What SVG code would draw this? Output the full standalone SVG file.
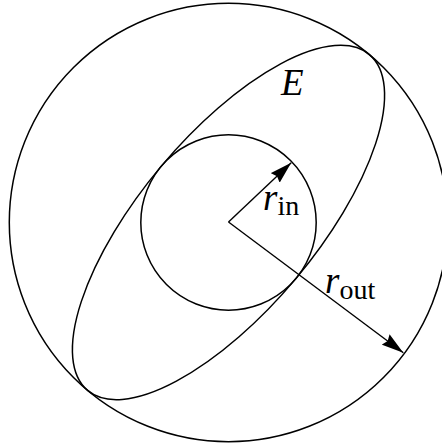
<svg xmlns="http://www.w3.org/2000/svg" width="442" height="444" viewBox="0 0 442 444">
<style>
.sh{fill:none;stroke:#000;stroke-width:1.5}
.ln{fill:none;stroke:#000;stroke-width:1.4}
.m{font-family:"Liberation Serif","Times New Roman",serif;font-style:italic;font-size:37px;fill:#000}
.s{font-family:"Liberation Serif","Times New Roman",serif;font-size:28px;fill:#000}
</style>
<defs>
<marker id="ah" markerUnits="userSpaceOnUse" markerWidth="24" markerHeight="14" refX="22" refY="7" orient="auto" viewBox="0 0 24 14">
<path d="M0,0.5 L22,7 L0,13.5 L2.5,7 Z" fill="#000"/>
</marker>
</defs>
<rect width="442" height="444" fill="#fff"/>
<g id="outer"><circle class="sh" cx="228.5" cy="222.5" r="219.2"/></g>
<g id="inner"><circle class="sh" cx="228.5" cy="222.5" r="87.7"/></g>
<g id="ellipseE"><ellipse class="sh" cx="228.5" cy="222.5" rx="219.2" ry="87.7" transform="rotate(-50 228.5 222.5)"/>
<text class="m" x="281" y="95">E</text></g>
<g id="connectors">
<line class="ln" x1="228.5" y1="222" x2="291.2" y2="162.8" marker-end="url(#ah)"/>
<line class="ln" x1="228.5" y1="222" x2="403.3" y2="352.7" marker-end="url(#ah)"/>
</g>
<g id="labels">
<text x="263" y="210"><tspan class="m">r</tspan><tspan class="s" dy="5">in</tspan></text>
<text x="325" y="293"><tspan class="m">r</tspan><tspan class="s" dy="6">out</tspan></text>
</g>
</svg>
